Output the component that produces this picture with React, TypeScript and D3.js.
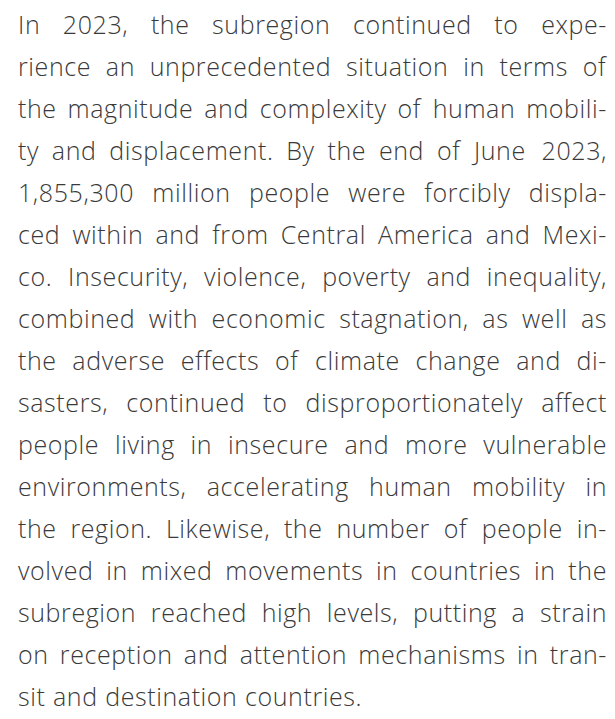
import { useEffect, useRef } from "react"
import * as d3 from "d3"

// paragraph, one entry per printed line (hyphenation as in the source)
const lines = [
    "In 2023, the subregion continued to expe-",
    "rience an unprecedented situation in terms of",
    "the magnitude and complexity of human mobili-",
    "ty and displacement. By the end of June 2023,",
    "1,855,300 million people were forcibly displa-",
    "ced within and from Central America and Mexi-",
    "co. Insecurity, violence, poverty and inequality,",
    "combined with economic stagnation, as well as",
    "the adverse effects of climate change and di-",
    "sasters, continued to disproportionately affect",
    "people living in insecure and more vulnerable",
    "environments, accelerating human mobility in",
    "the region. Likewise, the number of people in-",
    "volved in mixed movements in countries in the",
    "subregion reached high levels, putting a strain",
    "on reception and attention mechanisms in tran-",
    "sit and destination countries.",
]

const App = () => {
    const width = 615
    const height = 719
    const left = 18
    const right = 607
    const fontSize = 25
    const ref = useRef<SVGSVGElement>(null)

    useEffect(() => {
        const svg = d3.select(ref.current)
        svg.selectAll("*").remove()

        const y = d3
            .scalePoint<number>()
            .domain(d3.range(lines.length))
            .range([34, 706])

        const g = svg
            .append("g")
            .attr("font-family", "'Open Sans', sans-serif")
            .attr("font-weight", 300)
            .attr("font-size", fontSize)
            .attr("letter-spacing", 0.6)
            .attr("fill", "#3a3a3a")

        lines.forEach((line, i) => {
            const words = line.split(" ")
            const row = g.append("g").attr("transform", `translate(0, ${y(i)})`)
            const texts = row
                .selectAll("text")
                .data(words)
                .join("text")
                .text(d => d)
            const widths = texts.nodes().map(n => (n as SVGTextElement).getBBox().width)
            const isLast = i === lines.length - 1
            // justify every line but the last one
            const gap = isLast
                ? fontSize * 0.3
                : (right - left - d3.sum(widths)) / (words.length - 1)
            let x = left
            texts.attr("x", (d, j) => {
                const cur = x
                x += widths[j] + gap
                return cur
            })
        })
    })

    return (
        <svg
            ref={ref}
            width={width}
            height={height}
            style={{ position: "absolute", left: 0, top: 0, background: "#fff" }}
        />
    )
}

export default App
